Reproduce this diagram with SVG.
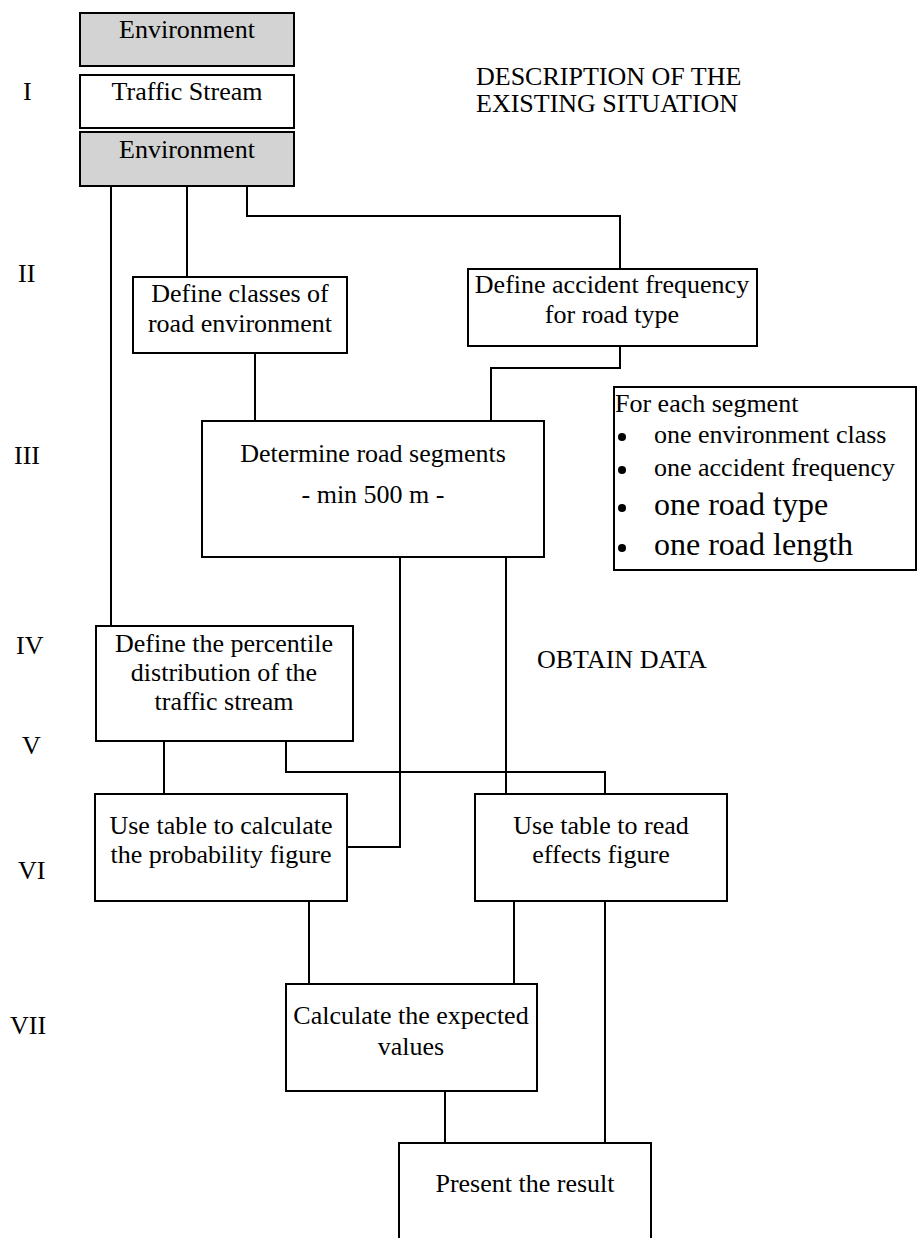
<svg xmlns="http://www.w3.org/2000/svg" width="917" height="1238" viewBox="0 0 917 1238">
<style>
.box{fill:#fff;stroke:#000;stroke-width:2}
.shade{fill:#d3d3d3;stroke:#000;stroke-width:2}
.t{font-family:"Liberation Serif","Times New Roman",serif;font-size:26px;fill:#000;text-anchor:middle}
.lab{font-family:"Liberation Serif","Times New Roman",serif;font-size:26px;fill:#000}
.leg{font-family:"Liberation Serif","Times New Roman",serif;font-size:26px;fill:#000}
.legb{font-family:"Liberation Serif","Times New Roman",serif;font-size:32px;fill:#000}
.c{fill:none;stroke:#000;stroke-width:2}
</style>
<rect width="917" height="1238" fill="#fff"/>
<g id="connectors">
<path class="c" d="M111,186V626"/>
<path class="c" d="M187,186V277"/>
<path class="c" d="M247,186V216H620V269"/>
<path class="c" d="M255,353V421"/>
<path class="c" d="M620,346V368H491V421"/>
<path class="c" d="M400,557V847H347"/>
<path class="c" d="M506,557V794"/>
<path class="c" d="M164,741V794"/>
<path class="c" d="M286,741V772H605V794"/>
<path class="c" d="M309,901V984"/>
<path class="c" d="M514,901V984"/>
<path class="c" d="M605,901V1143"/>
<path class="c" d="M445,1091V1143"/>
</g>
<g id="env-top"><rect class="shade" x="80" y="13" width="214" height="53"/><text class="t" x="187" y="38">Environment</text></g>
<g id="traffic"><rect class="box" x="80" y="75" width="214" height="53"/><text class="t" x="187" y="100">Traffic Stream</text></g>
<g id="env-bottom"><rect class="shade" x="80" y="132" width="214" height="54"/><text class="t" x="187" y="158">Environment</text></g>
<g id="labels">
<text class="lab" x="23" y="100">I</text>
<text class="lab" x="18" y="282">II</text>
<text class="lab" x="14" y="464">III</text>
<text class="lab" x="16" y="654">IV</text>
<text class="lab" x="22" y="754">V</text>
<text class="lab" x="18" y="879">VI</text>
<text class="lab" x="10" y="1034">VII</text>
<text class="lab" x="476" y="85">DESCRIPTION OF THE</text>
<text class="lab" x="476" y="112">EXISTING SITUATION</text>
<text class="lab" x="537" y="668">OBTAIN DATA</text>
</g>
<g id="classes"><rect class="box" x="133" y="277" width="214" height="76"/><text class="t" x="240" y="302">Define classes of</text><text class="t" x="240" y="332">road environment</text></g>
<g id="accident"><rect class="box" x="468" y="269" width="289" height="77"/><text class="t" x="612" y="293">Define accident frequency</text><text class="t" x="612" y="323">for road type</text></g>
<g id="segments"><rect class="box" x="202" y="421" width="342" height="136"/><text class="t" x="373" y="462">Determine road segments</text><text class="t" x="373" y="503">- min 500 m -</text></g>
<g id="legend"><rect class="box" x="614" y="387" width="302" height="183"/>
<text class="leg" x="615" y="412">For each segment</text>
<circle cx="622" cy="437" r="4"/><text class="leg" x="654" y="443">one environment class</text>
<circle cx="622" cy="470" r="4"/><text class="leg" x="654" y="476">one accident frequency</text>
<circle cx="622" cy="508" r="4"/><text class="legb" x="654" y="515">one road type</text>
<circle cx="622" cy="548" r="4"/><text class="legb" x="654" y="555">one road length</text>
</g>
<g id="percentile"><rect class="box" x="96" y="626" width="257" height="115"/><text class="t" x="224" y="652">Define the percentile</text><text class="t" x="224" y="681">distribution of the</text><text class="t" x="224" y="710">traffic stream</text></g>
<g id="probability"><rect class="box" x="95" y="794" width="252" height="107"/><text class="t" x="221" y="834">Use table to calculate</text><text class="t" x="221" y="863">the probability figure</text></g>
<g id="effects"><rect class="box" x="475" y="794" width="252" height="107"/><text class="t" x="601" y="834">Use table to read</text><text class="t" x="601" y="863">effects figure</text></g>
<g id="expected"><rect class="box" x="286" y="984" width="251" height="107"/><text class="t" x="411" y="1024">Calculate the expected</text><text class="t" x="411" y="1055">values</text></g>
<g id="present"><rect class="box" x="399" y="1143" width="252" height="110"/><text class="t" x="525" y="1192">Present the result</text></g>
</svg>
